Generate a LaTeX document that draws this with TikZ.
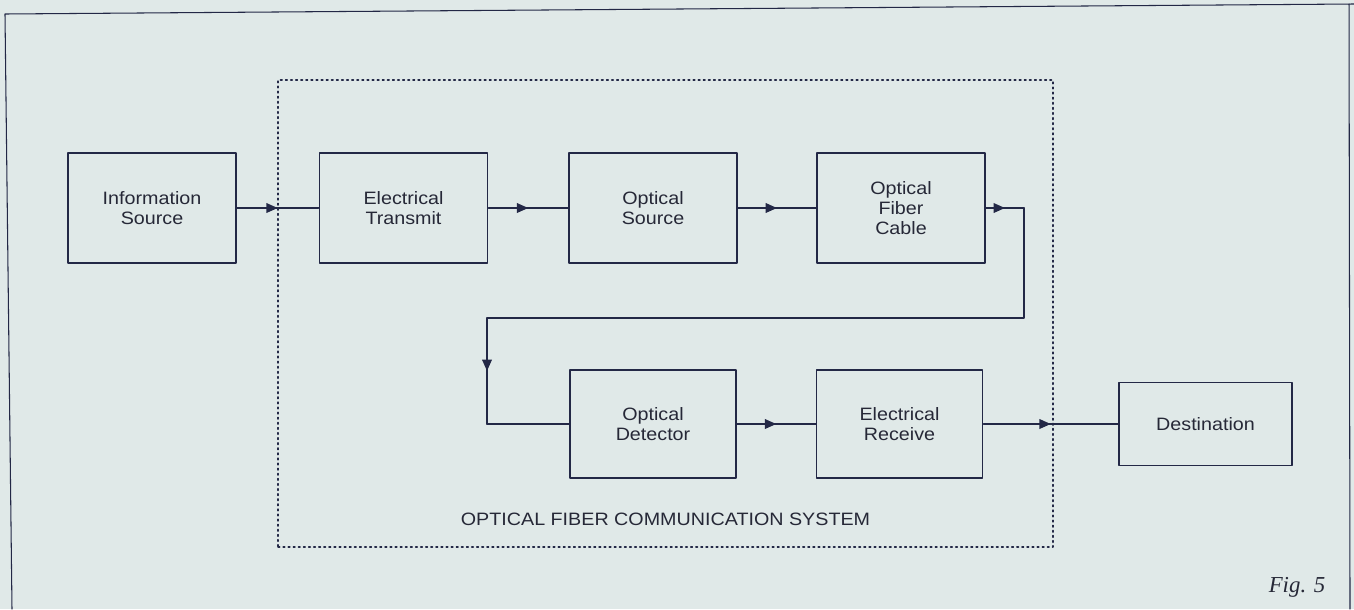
\documentclass[tikz,border=0pt]{standalone}
\usepackage{fontspec}
\setmainfont[FakeStretch=1.1]{Liberation Sans}
\newfontfamily\figfont{Liberation Serif}
\usetikzlibrary{arrows.meta,decorations.markings,positioning}
\definecolor{paper}{RGB}{224,233,232}
\definecolor{ink}{RGB}{35,40,70}
\definecolor{txt}{RGB}{38,40,55}
\begin{document}
\begin{tikzpicture}[x=0.02cm,y=-0.02cm,line join=round,line cap=round,thick]
	\tikzset{every node/.style={font=\fontsize{10.2}{11.3}\selectfont,text=txt},
		block/.style={draw=ink,line width=1.1pt,align=center,inner sep=0pt,minimum width=3.36cm,minimum height=2.2cm},
		lowblock/.style={block,minimum width=3.32cm,minimum height=2.16cm},
		sysbox/.style={draw=ink,dotted,line width=0.9pt,inner sep=0pt,minimum width=15.5cm,minimum height=9.34cm},
		link/.style={draw=ink,line width=0.9pt},
		midarrow/.style={link,postaction={decorate},decoration={markings,mark=at position 0.5 with {\arrow[ink]{Triangle[length=6.5pt,width=5.5pt]}}}}}
	\fill[paper] (0,0) rectangle (1354,609);
	\useasboundingbox (0,0) rectangle (1354,609);
	% outer frame
	\draw[ink,line width=0.6pt] (12,609)--(5,14)--(1354,4);
	\draw[ink,line width=0.6pt] (1349,4)--(1350,609);
	% system border
	\node[sysbox] (sys) at (665.5,313.5) {};
	\node[above=0.32cm of sys.south] (syslabel) {OPTICAL FIBER COMMUNICATION SYSTEM};
	% blocks
	\node[block] (info) at (152,208) {Information\\Source};
	\node[block] (etx) at (403.5,208) {Electrical\\Transmit};
	\node[block] (osrc) at (653,208) {Optical\\Source};
	\node[block] (fiber) at (901,208) {Optical\\Fiber\\Cable};
	\node[lowblock] (det) at (653,424) {Optical\\Detector};
	\node[lowblock] (rcv) at (899.5,424) {Electrical\\Receive};
	\node[block,minimum width=3.46cm,minimum height=1.66cm] (dest) at (1205.5,424) {Destination};
	% links
	\foreach \a/\b in {info/etx,etx/osrc,osrc/fiber,det/rcv,rcv/dest}
	\path[midarrow] (\a)--(\b);
	\coordinate (turnA) at (1024,208);
	\coordinate (turnB) at (1024,318);
	\coordinate (turnC) at (487,318);
	\coordinate (turnD) at (487,424);
	\path[midarrow] (fiber.east)--(turnA);
	\path[link] (turnA)--(turnB)--(turnC);
	\path[midarrow] (turnC)--(turnD);
	\path[link] (turnD)--(det.west);
	\node[font=\figfont\itshape\fontsize{13}{15}\selectfont] (fig) at (1297,587) {Fig. 5};
\end{tikzpicture}
\end{document}
